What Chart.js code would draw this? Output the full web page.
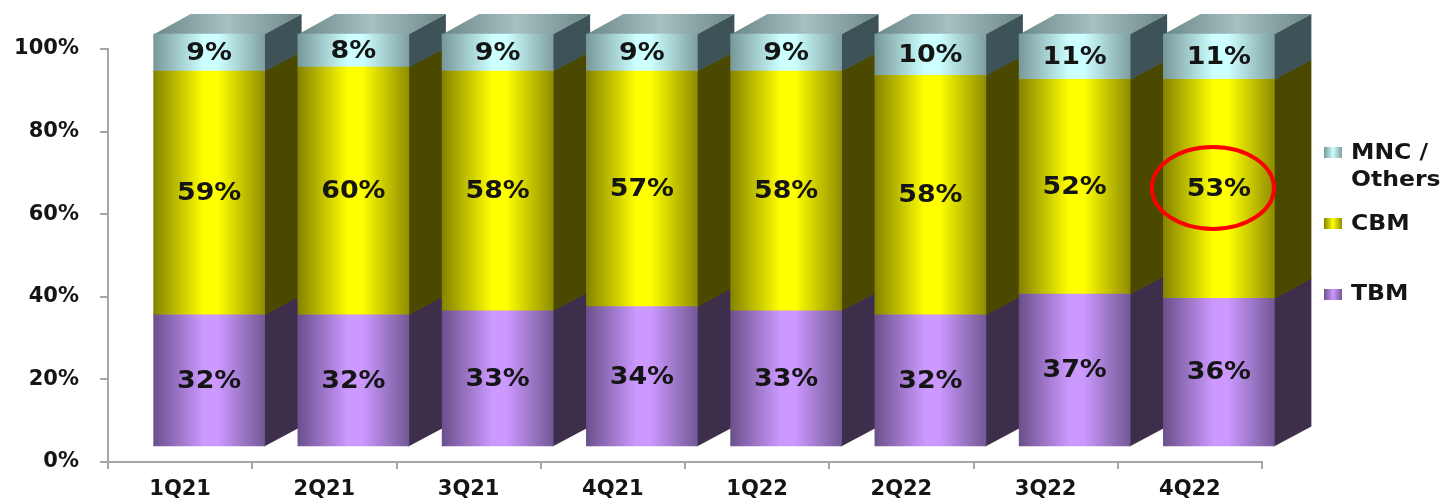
<!DOCTYPE html>
<html><head><meta charset="utf-8">
<script src="https://cdn.jsdelivr.net/npm/chart.js@4.4.1/dist/chart.umd.min.js"></script>
<style>html,body{margin:0;padding:0;background:#fff;overflow:hidden}#wrap{width:1440px;height:502px}</style>
</head><body><div id="wrap"><canvas id="c" width="1440" height="502"></canvas></div>
<script>
// ---- data ----
const categories = ['1Q21','2Q21','3Q21','4Q21','1Q22','2Q22','3Q22','4Q22'];
const tbm = [32,32,33,34,33,32,37,36];
const cbm = [59,60,58,57,58,58,52,53];
const mnc = [9,8,9,9,9,10,11,11];
const seriesNames = ['TBM','CBM','MNC / Others'];
const yTickValues = [0,20,40,60,80,100];
const highlight = {series:1, index:7};

// ---- style ----
const FONT = '"DejaVu Sans", Verdana, sans-serif';
const TEXT = '#151515';
const DX = 29, DY = -15, DEPTH_X = 37, DEPTH_Y = 20, BAR_W = 111, STRETCH = 1.12;
const styles = [
  {edge:'#6a508c', mid:'#cc99ff', edge2:'#735896', side:'#3d2e4b'},
  {edge:'#858300', mid:'#ffff00', edge2:'#8f8d00', side:'#4b4800'},
  {edge:'#789899', mid:'#ccffff', edge2:'#7f9fa0', side:'#3e5357'}
];

function frontFill(si){
  return (c) => {
    const chart = c.chart, xs = chart.scales && chart.scales.x;
    if (!xs || c.dataIndex === undefined) return styles[si].mid;
    const cx = xs.getPixelForValue(c.dataIndex);
    if (!isFinite(cx)) return styles[si].mid;
    const g = chart.ctx.createLinearGradient(cx - BAR_W/2, 0, cx + BAR_W/2, 0);
    g.addColorStop(0, styles[si].edge);
    g.addColorStop(0.45, styles[si].mid);
    g.addColorStop(0.58, styles[si].mid);
    g.addColorStop(1, styles[si].edge2);
    return g;
  };
}

function stretchedText(ctx, text, x, y, font, align, baseline){
  ctx.save();
  ctx.font = font; ctx.fillStyle = TEXT;
  ctx.textAlign = align; ctx.textBaseline = baseline;
  ctx.translate(x, y); ctx.scale(STRETCH, 1);
  ctx.fillText(text, 0, 0);
  ctx.restore();
}

const bar3d = {
  id: 'bar3d',
  beforeDatasetsDraw(chart){
    const ctx = chart.ctx;
    ctx.save();
    ctx.translate(DX, DY);
    const metas = chart.data.datasets.map((d,i)=>chart.getDatasetMeta(i));
    for (let i = 0; i < categories.length; i++){
      metas.forEach((meta, di) => {
        const p = meta.data[i].getProps(['x','y','base','width'], true);
        const left = p.x - p.width/2, right = p.x + p.width/2;
        const top = Math.min(p.y, p.base), bottom = Math.max(p.y, p.base);
        ctx.fillStyle = styles[di].side;
        ctx.beginPath();
        ctx.moveTo(right - 0.5, top);
        ctx.lineTo(right + DEPTH_X, top - DEPTH_Y);
        ctx.lineTo(right + DEPTH_X, bottom - DEPTH_Y + 0.6);
        ctx.lineTo(right - 0.5, bottom + 0.6);
        ctx.closePath(); ctx.fill();
        if (di === metas.length - 1){
          const g = ctx.createLinearGradient(left, 0, right + DEPTH_X, 0);
          g.addColorStop(0, '#6b8889');
          g.addColorStop(0.5, '#a6c0c0');
          g.addColorStop(1, '#6c8788');
          ctx.fillStyle = g;
          ctx.beginPath();
          ctx.moveTo(left, top + 0.5);
          ctx.lineTo(left + DEPTH_X, top - DEPTH_Y);
          ctx.lineTo(right + DEPTH_X, top - DEPTH_Y);
          ctx.lineTo(right, top + 0.5);
          ctx.closePath(); ctx.fill();
        }
      });
    }
  },
  afterDatasetsDraw(chart){
    const ctx = chart.ctx;
    chart.data.datasets.forEach((ds, di) => {
      const meta = chart.getDatasetMeta(di);
      meta.data.forEach((el, i) => {
        const p = el.getProps(['x','y','base'], true);
        const cy = (p.y + p.base) / 2;
        stretchedText(ctx, ds.data[i] + '%', p.x, cy + 1, 'bold 24px ' + FONT, 'center', 'middle');
      });
    });
    const hp = chart.getDatasetMeta(highlight.series).data[highlight.index].getProps(['x','y','base'], true);
    ctx.save();
    ctx.strokeStyle = '#ff0000'; ctx.lineWidth = 4;
    ctx.beginPath();
    ctx.ellipse(hp.x - 6, (hp.y + hp.base)/2 - 1, 61, 41, 0, 0, Math.PI*2);
    ctx.stroke();
    ctx.restore();
    ctx.restore();
  },
  afterDraw(chart){
    const ctx = chart.ctx;
    const f = 'bold 21px ' + FONT;
    const entries = [
      {si:2, lines:['MNC /','Others'], boxY:147, base:[159,186]},
      {si:1, lines:['CBM'], boxY:218, base:[230]},
      {si:0, lines:['TBM'], boxY:289, base:[300]}
    ];
    entries.forEach(e => {
      const g = ctx.createLinearGradient(1324, 0, 1342, 0);
      g.addColorStop(0, styles[e.si].edge);
      g.addColorStop(0.5, styles[e.si].mid);
      g.addColorStop(1, styles[e.si].edge2);
      ctx.fillStyle = g;
      ctx.fillRect(1324, e.boxY, 18, 11);
      e.lines.forEach((t, k) => stretchedText(ctx, t, 1351, e.base[k], f, 'left', 'alphabetic'));
    });
  }
};

new Chart(document.getElementById('c'), {
  type: 'bar',
  data: {
    labels: categories,
    datasets: [
      {label: seriesNames[0], data: tbm, backgroundColor: frontFill(0), borderWidth: 0},
      {label: seriesNames[1], data: cbm, backgroundColor: frontFill(1), borderWidth: 0},
      {label: seriesNames[2], data: mnc, backgroundColor: frontFill(2), borderWidth: 0}
    ]
  },
  options: {
    responsive: false,
    animation: false,
    devicePixelRatio: 1,
    layout: {padding: {top: 49, right: 178, bottom: 0, left: 0}},
    datasets: {bar: {barThickness: BAR_W, clip: false}},
    plugins: {legend: {display: false}, tooltip: {enabled: false}},
    scales: {
      x: {
        stacked: true,
        grid: {offset: true, drawOnChartArea: false, drawTicks: true, tickLength: 7, color: '#a6a6a6', lineWidth: 2},
        border: {display: true, color: '#a6a6a6', width: 2},
        ticks: {color: TEXT, font: {family: FONT, size: 21, weight: 'bold'}, padding: 8, maxRotation: 0},
        afterFit(s){ s.height = 40; }
      },
      y: {
        stacked: true, min: 0, max: 100,
        afterBuildTicks(s){ s.ticks = yTickValues.map(v => ({value: v})); },
        grid: {drawOnChartArea: false, drawTicks: true, tickLength: 8, color: '#a6a6a6', lineWidth: 2},
        border: {display: true, color: '#a6a6a6', width: 2},
        ticks: {color: TEXT, font: {family: FONT, size: 21, weight: 'bold'}, padding: 21, callback: v => v + '%'},
        afterFit(s){ s.width = 108; }
      }
    }
  },
  plugins: [bar3d]
});
</script>
</body></html>
